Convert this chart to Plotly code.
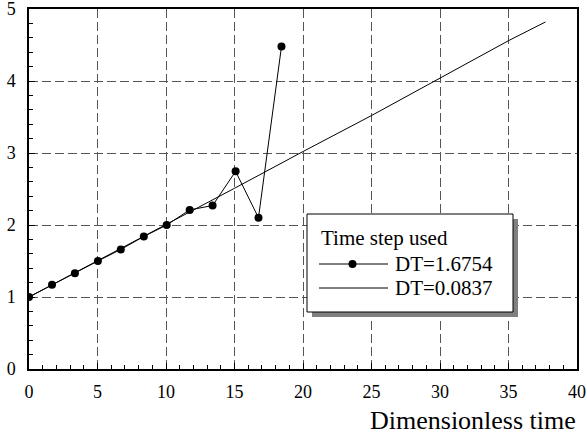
import plotly.graph_objects as go

# DT = 1.6754 (coarse step) values
coarse_t = [0, 1.68, 3.35, 5.03, 6.70, 8.38, 10.05, 11.73, 13.40, 15.08, 16.75, 18.43]
coarse_y = [1.0, 1.17, 1.33, 1.50, 1.66, 1.84, 2.00, 2.21, 2.27, 2.745, 2.10, 4.48]

# DT = 0.0837 (fine step) values
fine_t = [0, 5, 10, 15, 20, 25, 30, 35, 37.7]
fine_y = [1.0, 1.5, 2.0, 2.51, 3.02, 3.52, 4.04, 4.56, 4.82]

x_ticks = [0, 5, 10, 15, 20, 25, 30, 35, 40]
y_ticks = [0, 1, 2, 3, 4, 5]
legend_title = "Time step used"
series_names = ["DT=1.6754", "DT=0.0837"]
x_title = "Dimensionless time"

FONT = "'Times New Roman', 'Liberation Serif', 'DejaVu Serif', serif"
W, H = 587, 434
ML, MR, MT, MB = 29, 10, 9, 65
PW, PH = W - ML - MR, H - MT - MB


def px(xp):
    return (xp - ML) / PW


def py(yp):
    return (H - MB - yp) / PH


fig = go.Figure()
fig.add_trace(go.Scatter(x=fine_t, y=fine_y, mode="lines", name=series_names[1],
                         line=dict(color="black", width=1), showlegend=False))
fig.add_trace(go.Scatter(x=coarse_t, y=coarse_y, mode="lines+markers", name=series_names[0],
                         line=dict(color="black", width=1),
                         marker=dict(color="black", size=8), showlegend=False))

axis_common = dict(
    showline=True, linecolor="black", linewidth=1.5, mirror=True,
    showgrid=True, gridcolor="#555555", gridwidth=1, griddash="9px,4px",
    ticks="inside", ticklen=6, tickcolor="black", tickwidth=1,
    tickfont=dict(family=FONT, size=18, color="black"),
    zeroline=False, automargin=False, ticklabeloverflow="allow",
)

fig.update_xaxes(range=[0, 40], tickvals=x_ticks, ticktext=[str(v) for v in x_ticks],
                 minor=dict(ticks="inside", dtick=1, ticklen=4, tickcolor="black", showgrid=False),
                 ticklabelstandoff=6, **axis_common)
fig.update_yaxes(range=[0, 5], tickvals=y_ticks, ticktext=[str(v) for v in y_ticks],
                 minor=dict(ticks="inside", dtick=0.2, ticklen=4, tickcolor="black", showgrid=False),
                 ticklabelstandoff=8, **axis_common)

shapes = []
annotations = []
# legend shadow and box
shapes.append(dict(type="rect", xref="paper", yref="paper",
                   x0=px(312), x1=px(518), y0=py(317), y1=py(219),
                   fillcolor="#808080", line=dict(width=0), layer="above"))
shapes.append(dict(type="rect", xref="paper", yref="paper",
                   x0=px(307), x1=px(513), y0=py(312), y1=py(214),
                   fillcolor="white", line=dict(color="black", width=1), layer="above"))
# legend item lines
shapes.append(dict(type="line", xref="paper", yref="paper",
                   x0=px(319), x1=px(388), y0=py(264), y1=py(264),
                   line=dict(color="black", width=1), layer="above"))
shapes.append(dict(type="line", xref="paper", yref="paper",
                   x0=px(319), x1=px(388), y0=py(288), y1=py(288),
                   line=dict(color="black", width=1), layer="above"))
# legend marker
shapes.append(dict(type="circle", xref="paper", yref="paper",
                   xsizemode="pixel", ysizemode="pixel",
                   xanchor=px(352.5), yanchor=py(264),
                   x0=-4, x1=4, y0=-4, y1=4,
                   fillcolor="black", line=dict(color="black", width=0), layer="above"))

annotations.append(dict(text=legend_title, xref="paper", yref="paper",
                        x=px(319), y=py(238), xanchor="left", yanchor="middle",
                        showarrow=False, font=dict(family=FONT, size=21, color="black")))
annotations.append(dict(text=series_names[0], xref="paper", yref="paper",
                        x=px(393), y=py(264), xanchor="left", yanchor="middle",
                        showarrow=False, font=dict(family=FONT, size=21, color="black")))
annotations.append(dict(text=series_names[1], xref="paper", yref="paper",
                        x=px(393), y=py(288), xanchor="left", yanchor="middle",
                        showarrow=False, font=dict(family=FONT, size=21, color="black")))
annotations.append(dict(text=x_title, xref="paper", yref="paper",
                        x=px(578), y=py(420), xanchor="right", yanchor="middle",
                        showarrow=False, font=dict(family=FONT, size=26, color="black")))

fig.update_layout(
    width=W, height=H,
    margin=dict(l=ML, r=MR, t=MT, b=MB),
    paper_bgcolor="white", plot_bgcolor="white",
    font=dict(family=FONT, color="black"),
    shapes=shapes, annotations=annotations,
    showlegend=False,
)

fig.write_html("out.html")
